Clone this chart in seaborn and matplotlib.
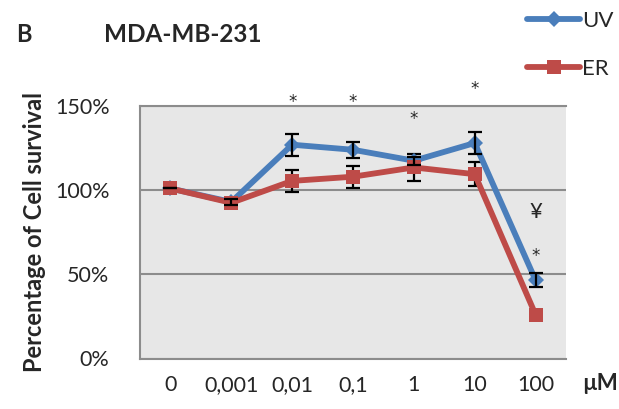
import matplotlib
matplotlib.use("Agg")
import matplotlib.pyplot as plt
import seaborn as sns
import pandas as pd
import numpy as np
from matplotlib.lines import Line2D

concentrations = ["0", "0,001", "0,01", "0,1", "1", "10", "100"]
uv_values = [101, 93, 127, 124, 117.5, 128, 46.5]
uv_err = [0, 2, 6.5, 4.8, 2.5, 6.5, 4]
er_values = [101, 92.5, 105.5, 108, 113.5, 109.5, 26]
er_err = [0, 1.5, 6.5, 6.5, 8, 7.3, 0.4]
series_names = ["UV", "ER"]
yticks = [0, 50, 100, 150]
ytick_labels = ["0%", "50%", "100%", "150%"]
# annotations: (category index, value, text)
annot_pos = [2, 3, 4, 5, 6, 6]
annot_val = [154, 154, 143.5, 161.5, 62.5, 87]
annot_txt = ["*", "*", "*", "*", "*", "¥"]

blue = "#4a7ebb"
red = "#be4b48"

sns.set_theme(style="white")
plt.rcParams["font.family"] = ["Lato", "DejaVu Sans"]

df = pd.DataFrame({
    "conc": list(range(len(concentrations))) * 2,
    "value": uv_values + er_values,
    "series": ["UV"] * len(uv_values) + ["ER"] * len(er_values),
})

fig = plt.figure(figsize=(6.19, 4.09), dpi=100)
ax = fig.add_axes([140 / 619, 1 - 358.5 / 409, 426 / 619, 252.5 / 409])
ax.set_facecolor("#e7e7e7")

sns.lineplot(data=df, x="conc", y="value", hue="series", style="series",
             hue_order=series_names, style_order=series_names,
             palette={"UV": blue, "ER": red},
             markers={"UV": "D", "ER": "s"}, dashes=False,
             linewidth=4.2, markersize=9, markeredgewidth=0,
             ax=ax, legend=False, zorder=3)
lines = ax.get_lines()
if len(lines) >= 2:
    lines[0].set_markersize(8)
    lines[1].set_markersize(10.5)

x = np.arange(len(concentrations))
ax.errorbar(x, uv_values, yerr=uv_err, fmt="none", ecolor="black",
            elinewidth=1.6, capsize=5, capthick=1.6, zorder=4)
ax.errorbar(x, er_values, yerr=er_err, fmt="none", ecolor="black",
            elinewidth=1.6, capsize=5, capthick=1.6, zorder=2.5)

ax.set_xlim(-0.5, len(concentrations) - 0.5)
ax.set_ylim(0, 150)
ax.set_yticks(yticks)
ax.set_yticklabels(ytick_labels, fontsize=15.5)
ax.set_xticks(x)
ax.set_xticklabels(concentrations, fontsize=15.5)
ax.tick_params(axis="y", length=0, pad=22)
ax.tick_params(axis="x", length=0, pad=12)
ax.yaxis.grid(True, color="#8c8c8c", linewidth=1.5, zorder=0)
ax.set_axisbelow(True)
for s in ["left", "bottom", "top"]:
    ax.spines[s].set_color("#8c8c8c")
    ax.spines[s].set_linewidth(1.5)
ax.spines["right"].set_visible(False)
ax.set_xlabel("")
ax.set_ylabel("Percentage of Cell survival", fontsize=17, fontweight="bold", labelpad=6)

for p, v, t in zip(annot_pos, annot_val, annot_txt):
    if t == "*":
        ax.text(p, v - 1.5, t, ha="center", va="center", fontsize=12,
                family=["DejaVu Sans"], clip_on=False, zorder=5)
    else:
        ax.text(p, v, t, ha="center", va="center", fontsize=16, clip_on=False, zorder=5)

fig.text(16 / 619, 1 - 34 / 409, "B", fontsize=17, fontweight="bold", ha="left", va="center")
fig.text(104 / 619, 1 - 34 / 409, "MDA-MB-231", fontsize=17.5, fontweight="bold", ha="left", va="center")
fig.text(600 / 619, 1 - 383 / 409, "µM", fontsize=16, fontweight="bold", ha="center", va="center")

handles = [Line2D([], [], color=blue, marker="D", markersize=8, linewidth=4.2, markeredgewidth=0),
           Line2D([], [], color=red, marker="s", markersize=10.5, linewidth=4.2, markeredgewidth=0)]
fig.legend(handles, series_names, loc="upper left", bbox_to_anchor=(518 / 619, 1 - 2 / 409),
           frameon=False, fontsize=16, handlelength=2.4, labelspacing=1.25,
           handletextpad=0.1, borderaxespad=0)

fig.savefig("out.png", dpi=100)
